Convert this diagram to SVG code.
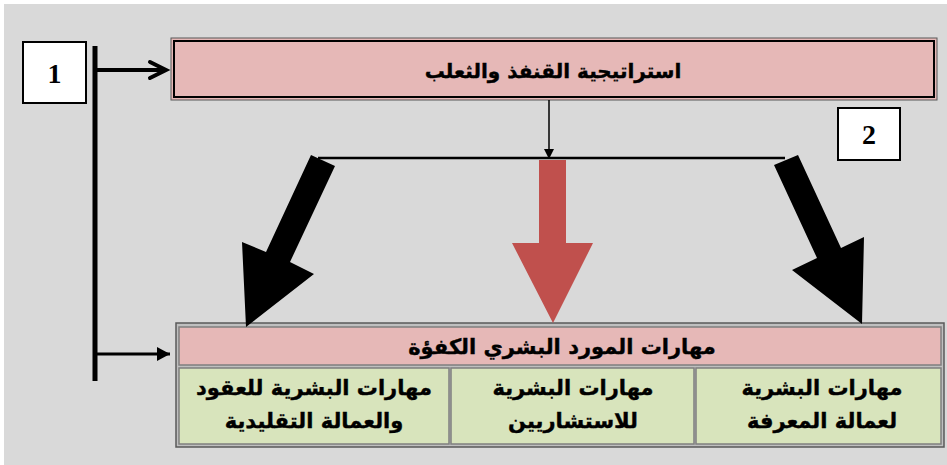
<svg xmlns="http://www.w3.org/2000/svg" width="947" height="465" viewBox="0 0 947 465">
<style>
.ar{font-family:"DejaVu Sans","Noto Sans",sans-serif;font-weight:bold;fill:#000;stroke:#000;stroke-width:0.4;text-anchor:middle}
.num{font-family:"Liberation Serif",serif;font-weight:bold;font-size:28px;text-anchor:middle}
.lbl{fill:#fff;stroke:#000;stroke-width:2}
.cell{fill:#d8e4bc;stroke:#7f7f7f;stroke-width:1.5}
</style>
<defs>
<marker id="ah" markerWidth="10" markerHeight="10" refX="9" refY="5" orient="auto" markerUnits="userSpaceOnUse">
<path d="M0,0 L10,5 L0,10 Z" fill="#000"/>
</marker>
<marker id="ah2" markerWidth="14" markerHeight="14" refX="13" refY="7" orient="auto" markerUnits="userSpaceOnUse">
<path d="M0,0 L13,7 L0,14 Z" fill="#000"/>
</marker>
</defs>
<rect x="4" y="4" width="943" height="461" fill="#d9d9d9"/>

<g id="label1"><rect class="lbl" x="23" y="42" width="63" height="61"/><text class="num" x="54.5" y="83">1</text></g>
<g id="label2"><rect class="lbl" x="838" y="108" width="62" height="52"/><text class="num" x="869" y="144">2</text></g>

<g id="strategy">
<rect x="171" y="38" width="766" height="62" fill="#e6b8b7" stroke="#595959" stroke-width="1"/>
<rect x="174" y="41" width="760" height="56" fill="#e6b8b7" stroke="#000" stroke-width="2"/>
<text class="ar" x="553" y="78" font-size="20">استراتيجية القنفذ والثعلب</text>
</g>

<g id="skills">
<rect x="176" y="323" width="768" height="124" fill="#bfbfbf" stroke="#595959" stroke-width="1.5"/>
<rect x="179" y="327" width="762" height="38" fill="#e6b8b7" stroke="#7f7f7f" stroke-width="1.5"/>
<text class="ar" x="562" y="354" font-size="21">مهارات المورد البشري الكفؤة</text>
</g>
<g id="cell-right"><rect class="cell" x="696" y="368" width="245" height="76"/>
<text class="ar" x="822" y="395" font-size="21">مهارات البشرية</text><text class="ar" x="822" y="428" font-size="21">لعمالة المعرفة</text></g>
<g id="cell-middle"><rect class="cell" x="451" y="368" width="243" height="76"/>
<text class="ar" x="573" y="395" font-size="21">مهارات البشرية</text><text class="ar" x="573" y="428" font-size="21">للاستشاريين</text></g>
<g id="cell-left"><rect class="cell" x="179" y="368" width="270" height="76"/>
<text class="ar" x="314" y="395" font-size="21">مهارات البشرية للعقود</text><text class="ar" x="314" y="428" font-size="21">والعمالة التقليدية</text></g>

<g id="connectors">
<line x1="95" y1="46" x2="95" y2="381" stroke="#000" stroke-width="5"/>
<line x1="95" y1="70" x2="166" y2="70" stroke="#000" stroke-width="4"/>
<polyline points="150,62 166,70 150,78" fill="none" stroke="#000" stroke-width="4" stroke-linecap="round"/>
<line x1="95" y1="354" x2="170" y2="354" stroke="#000" stroke-width="3" marker-end="url(#ah2)"/>
<line x1="549" y1="100" x2="549" y2="158" stroke="#000" stroke-width="1.5" marker-end="url(#ah)"/>
<line x1="318" y1="158" x2="785" y2="158" stroke="#000" stroke-width="2.5"/>
<polygon points="539,160 566,160 566,243 593,243 553,323 512,243 539,243" fill="#c0504d"/>
<polygon points="311,155 335,166 290,262 314,274 246,327 242,242 266,252" fill="#000"/>
<polygon points="798,155 774,165 817,258 792,270 862,324 864,237 841,248" fill="#000"/>
</g>
</svg>
